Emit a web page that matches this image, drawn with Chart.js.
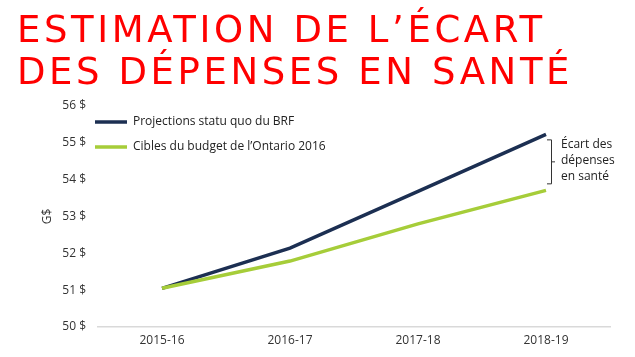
<!DOCTYPE html>
<html lang="fr">
<head>
<meta charset="utf-8">
<script src="https://cdn.jsdelivr.net/npm/chart.js@4"></script>
<style>
  html, body { margin:0; padding:0; background:#fff; width:635px; height:357px; overflow:hidden; }
  #wrap { position:relative; width:635px; height:357px; }
  #chart { position:absolute; left:0; top:0; }
  .ttl { position:absolute; left:17px; margin:0; font-family:"DejaVu Sans", sans-serif; font-weight:normal;
         font-size:37px; line-height:37px; color:#ff0000; white-space:nowrap; }
  #t1 { top:11px; }
  #t2 { top:53px; }
</style>
</head>
<body>
<div id="wrap">
  <canvas id="chart" width="635" height="357"></canvas>
  <div class="ttl" id="t1">ESTIMATION DE L’ÉCART</div>
  <div class="ttl" id="t2">DES DÉPENSES EN SANTÉ</div>
</div>
<script>
const categories = ['2015-16', '2016-17', '2017-18', '2018-19'];
const projectionsBRF = [51.05, 52.14, 53.68, 55.23];
const ciblesBudget = [51.05, 51.79, 52.80, 53.71];
const seriesLabels = ['Projections statu quo du BRF', 'Cibles du budget de l’Ontario 2016'];
const yMin = 50, yMax = 56, yStep = 1;
const gapNote = ['Écart des', 'dépenses', 'en santé'];
const yAxisTitle = 'G$';

// fit title letter-spacing
(function(){
  const c = document.createElement('canvas').getContext('2d');
  c.font = '37px "DejaVu Sans"';
  const s1 = document.getElementById('t1').textContent;
  const w1 = c.measureText(s1).width;
  const ls = (525 - w1) / (s1.length - 1);
  document.getElementById('t1').style.letterSpacing = ls + 'px';
  document.getElementById('t2').style.letterSpacing = ls + 'px';
})();

const NAVY = '#1c2f52';
const GREEN = '#a6cd39';
const FONT = '"Open Sans", sans-serif';

const overlay = {
  id: 'overlay',
  afterDatasetsDraw(chart) {
    const ctx = chart.ctx, a = chart.chartArea, y = chart.scales.y, x = chart.scales.x;
    ctx.save();
    // legend
    const cols = [NAVY, GREEN];
    const ys = [122, 147];
    ctx.font = '12px ' + FONT;
    ctx.textBaseline = 'middle';
    ctx.textAlign = 'left';
    for (let i = 0; i < 2; i++) {
      ctx.strokeStyle = cols[i];
      ctx.lineWidth = 3.5;
      ctx.beginPath();
      ctx.moveTo(a.left - 3, ys[i]);
      ctx.lineTo(a.left + 29, ys[i]);
      ctx.stroke();
      ctx.fillStyle = '#222';
      ctx.fillText(seriesLabels[i], a.left + 35, ys[i]);
    }
    // bracket
    const last = categories.length - 1;
    const px = x.getPixelForValue(last);
    const top = y.getPixelForValue(projectionsBRF[last]) + 5;
    const bot = y.getPixelForValue(ciblesBudget[last]) - 7;
    const bx = px + 5;
    const mid = (top + bot) / 2;
    ctx.strokeStyle = '#333';
    ctx.lineWidth = 1;
    ctx.beginPath();
    ctx.moveTo(bx - 4, top + 0.5); ctx.lineTo(bx + 0.5, top + 0.5);
    ctx.lineTo(bx + 0.5, bot + 0.5); ctx.lineTo(bx - 4, bot + 0.5);
    ctx.moveTo(bx + 0.5, mid + 0.5); ctx.lineTo(bx + 4, mid + 0.5);
    ctx.stroke();
    ctx.fillStyle = '#222';
    ctx.font = '12px ' + FONT;
    const lh = 16;
    for (let i = 0; i < gapNote.length; i++) {
      ctx.fillText(gapNote[i], bx + 10, mid + (i - 1) * lh - 1);
    }
    ctx.restore();
  }
};

new Chart(document.getElementById('chart'), {
  type: 'line',
  data: {
    labels: categories,
    datasets: [
      { label: seriesLabels[0], data: projectionsBRF, borderColor: NAVY, backgroundColor: NAVY,
        borderWidth: 3.5, pointRadius: 0, tension: 0, order: 1 },
      { label: seriesLabels[1], data: ciblesBudget, borderColor: GREEN, backgroundColor: GREEN,
        borderWidth: 3.5, pointRadius: 0, tension: 0, order: 0 }
    ]
  },
  options: {
    responsive: false,
    animation: false,
    devicePixelRatio: 1,
    layout: { padding: { top: 106, left: 30, right: 25, bottom: 0 } },
    plugins: { legend: { display: false }, title: { display: false }, tooltip: { enabled: false } },
    scales: {
      x: {
        offset: true,
        grid: { display: false, drawTicks: false },
        border: { display: true, color: '#d9d9d9', width: 1.5 },
        ticks: { font: { family: FONT, size: 12 }, color: '#333', padding: 6, maxRotation: 0 },
        afterFit(s) { s.height = 30; }
      },
      y: {
        min: yMin, max: yMax,
        grid: { display: false, drawTicks: false },
        border: { display: false },
        ticks: { stepSize: yStep, font: { family: FONT, size: 12 }, color: '#333', padding: 12,
                 callback: v => v + ' $' },
        title: { display: true, text: yAxisTitle, font: { family: FONT, size: 12 }, color: '#333',
                 padding: { top: 10, bottom: 0 } },
        afterFit(s) { s.width = 68; }
      }
    }
  },
  plugins: [overlay]
});
</script>
</body>
</html>
